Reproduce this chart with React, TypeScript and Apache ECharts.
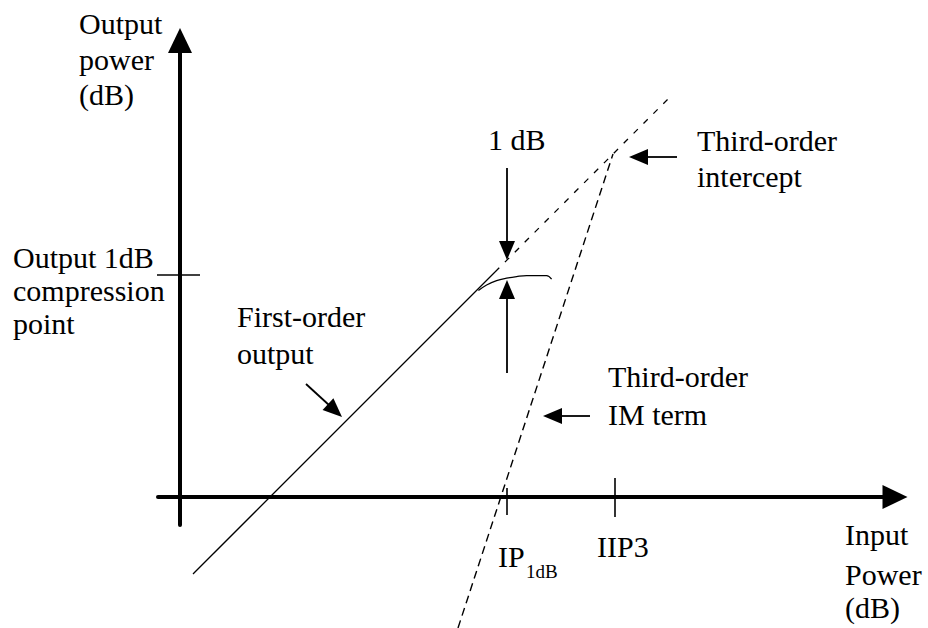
import React, { useEffect, useRef } from "react";
import * as echarts from "echarts";

// Data (units: dB; origin at the axes crossing)
const firstOrderSolid: number[][] = [[0.65, -3.85], [15.75, 11.25]];
const firstOrderExtrap: number[][] = [[15.75, 11.25], [24.6, 20.1]];
const compressionCurve: number[][] = [
  [14.92, 10.32], [15.33, 10.6], [15.83, 10.82], [16.33, 10.94],
  [16.83, 11.02], [17.33, 11.07], [18.33, 11.07], [18.58, 10.89],
];
const thirdOrderIM: number[][] = [[13.9, -6.55], [21.65, 17.15]];

// annotation arrows: [fromX, fromY, toX, toY]
const arrows: number[][] = [
  [16.35, 16.45, 16.35, 11.85],
  [16.35, 6.2, 16.35, 10.85],
  [24.85, 17.0, 22.45, 17.0],
  [20.5, 4.05, 18.15, 4.05],
  [6.3, 5.65, 8.1, 4.0],
];

// tick marks: [x1, y1, x2, y2]
const tickMarks: number[][] = [
  [16.35, 0.45, 16.35, -0.9],
  [21.75, 0.95, 21.75, -1.0],
  [-1.15, 11.1, 1.0, 11.1],
];

const FONT = "Liberation Serif";

function txt(text: string, x: number, y: number, size = 30) {
  return {
    type: "text",
    x,
    y,
    silent: true,
    style: {
      text,
      fontSize: size,
      fontFamily: FONT,
      fill: "#000",
      align: "left",
      verticalAlign: "middle",
    },
  };
}

export default function App() {
  const ref = useRef<HTMLDivElement>(null);
  useEffect(() => {
    if (!ref.current) return;
    const chart = echarts.init(ref.current, null, { renderer: "svg" });
    const HEAD_L = 19;
    const HEAD_W = 16;
    const option: any = {
      animation: false,
      backgroundColor: "#fff",
      grid: { left: 158, right: 33, top: 40.5, bottom: 103, containLabel: false, outerBoundsMode: "none" },
      xAxis: {
        type: "value",
        min: -1.1,
        max: 35.75,
        axisLine: {
          show: true,
          onZero: true,
          symbol: ["none", "triangle"],
          symbolSize: [24, 25],
          lineStyle: { color: "#000", width: 4 },
        },
        axisTick: { show: false },
        axisLabel: { show: false },
        splitLine: { show: false },
      },
      yAxis: {
        type: "value",
        min: -1.4,
        max: 22.825,
        axisLine: {
          show: true,
          onZero: true,
          symbol: ["none", "triangle"],
          symbolSize: [24, 25],
          lineStyle: { color: "#000", width: 4 },
        },
        axisTick: { show: false },
        axisLabel: { show: false },
        splitLine: { show: false },
      },
      series: [
        {
          type: "line",
          data: firstOrderSolid,
          symbol: "none",
          clip: false,
          lineStyle: { color: "#000", width: 1.3 },
        },
        {
          type: "line",
          data: firstOrderExtrap,
          symbol: "none",
          clip: false,
          lineStyle: { color: "#000", width: 1.3, type: [6, 8] },
        },
        {
          type: "line",
          data: compressionCurve,
          symbol: "none",
          smooth: 0.4,
          clip: false,
          lineStyle: { color: "#000", width: 1.3 },
        },
        {
          type: "line",
          data: thirdOrderIM,
          symbol: "none",
          clip: false,
          lineStyle: { color: "#000", width: 1.4, type: [8, 5] },
        },
        {
          type: "custom",
          clip: false,
          silent: true,
          data: tickMarks,
          renderItem: (_p: any, api: any) => {
            const a = api.coord([api.value(0), api.value(1)]);
            const b = api.coord([api.value(2), api.value(3)]);
            return {
              type: "line",
              shape: { x1: a[0], y1: a[1], x2: b[0], y2: b[1] },
              style: { stroke: "#000", lineWidth: 1.6 },
            };
          },
        },
        {
          type: "custom",
          clip: false,
          silent: true,
          data: arrows,
          renderItem: (_p: any, api: any) => {
            const a = api.coord([api.value(0), api.value(1)]);
            const b = api.coord([api.value(2), api.value(3)]);
            const dx = b[0] - a[0];
            const dy = b[1] - a[1];
            const len = Math.hypot(dx, dy) || 1;
            const ux = dx / len;
            const uy = dy / len;
            const bx = b[0] - ux * HEAD_L;
            const by = b[1] - uy * HEAD_L;
            const nx = -uy;
            const ny = ux;
            return {
              type: "group",
              children: [
                {
                  type: "line",
                  shape: { x1: a[0], y1: a[1], x2: bx + ux * 2, y2: by + uy * 2 },
                  style: { stroke: "#000", lineWidth: 1.8 },
                },
                {
                  type: "polygon",
                  shape: {
                    points: [
                      [b[0], b[1]],
                      [bx + (nx * HEAD_W) / 2, by + (ny * HEAD_W) / 2],
                      [bx - (nx * HEAD_W) / 2, by - (ny * HEAD_W) / 2],
                    ],
                  },
                  style: { fill: "#000" },
                },
              ],
            };
          },
        },
      ],
      graphic: [
        txt("Output", 79, 23),
        txt("power", 79, 59),
        txt("(dB)", 79, 94),
        txt("Output 1dB", 13, 257),
        txt("compression", 13, 290),
        txt("point", 13, 323),
        txt("First-order", 237, 316),
        txt("output", 237, 353),
        txt("1 dB", 488, 139),
        txt("Third-order", 697, 140),
        txt("intercept", 697, 176),
        txt("Third-order", 608, 376),
        txt("IM term", 608, 414),
        txt("IP", 498, 556),
        txt("1dB", 526, 571, 19),
        txt("IIP3", 597, 546),
        txt("Input", 845, 534),
        txt("Power", 845, 574),
        txt("(dB)", 845, 607),
      ],
    };
    chart.setOption(option);
    return () => chart.dispose();
  }, []);
  return (
    <div
      ref={ref}
      style={{ position: "fixed", left: 0, top: 0, width: 928, height: 628, background: "#fff" }}
    />
  );
}
